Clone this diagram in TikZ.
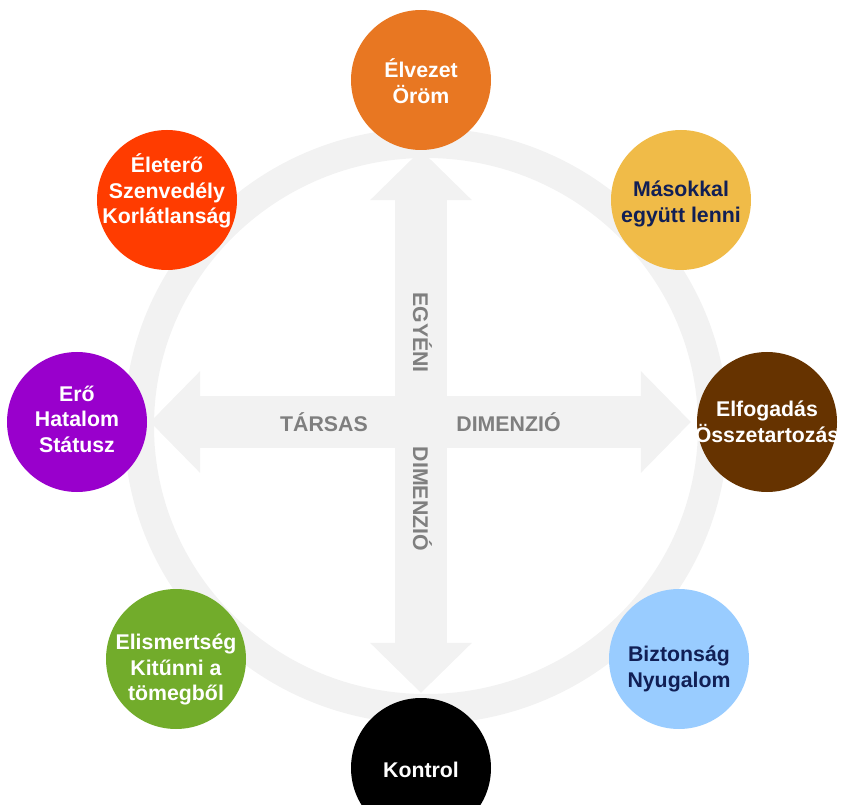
\documentclass[tikz,border=0pt]{standalone}
\usepackage{fontspec}
\setmainfont{Liberation Sans}
\usetikzlibrary{arrows.meta,backgrounds}

\definecolor{cElvezet}{RGB}{232,119,34}
\definecolor{cEletero}{RGB}{255,60,0}
\definecolor{cMasokkal}{RGB}{240,187,72}
\definecolor{cElfogadas}{RGB}{102,51,0}
\definecolor{cEro}{RGB}{153,0,204}
\definecolor{cElismert}{RGB}{114,172,43}
\definecolor{cBiztonsag}{RGB}{153,204,255}
\definecolor{navytext}{RGB}{17,31,85}
\definecolor{ringgray}{RGB}{242,242,242}
\definecolor{axisgray}{RGB}{127,127,127}

\begin{document}
\begin{tikzpicture}[x=1pt,y=-1pt]

\tikzstyle{bubble}=[circle,minimum size=140pt,inner sep=0pt]
\tikzstyle{bubbletext}=[align=center,font=\fontsize{21.3}{25.5}\selectfont\bfseries,text=white]
\tikzstyle{axislabel}=[font=\fontsize{21.3}{25.5}\selectfont\bfseries,text=axisgray,anchor=base]
\tikzstyle{bigarrow}=[color=ringgray,line width=52pt,{Triangle[width=102pt,length=50pt,line width=0pt,fill=ringgray]}-{Triangle[width=102pt,length=50pt,line width=0pt,fill=ringgray]}]

\useasboundingbox (0,0) rectangle (847,805);

\node[bubble,fill=cElvezet] 	(elvezet) 	at (421,80) 	{};
\node[bubble,fill=cEletero] 	(eletero) 	at (167,200) 	{};
\node[bubble,fill=cMasokkal] 	(masokkal) 	at (681,200) 	{};
\node[bubble,fill=cEro] 		(ero) 		at (77,422) 	{};
\node[bubble,fill=cElfogadas] 	(elfogadas) at (767,422) 	{};
\node[bubble,fill=cElismert] 	(elismert) 	at (176,659) 	{};
\node[bubble,fill=cBiztonsag] 	(biztonsag) at (679,659) 	{};
\node[bubble,fill=black] 		(kontrol) 	at (421,768) 	{};

\node[bubbletext] 				(elvezet-t) 	at ([yshift=-1pt]elvezet) 		{Élvezet\\Öröm};
\node[bubbletext] 				(eletero-t) 	at ([yshift=9pt]eletero) 		{Életerő\\Szenvedély\\Korlátlanság};
\node[bubbletext,text=navytext] (masokkal-t) 	at ([yshift=-4pt]masokkal) 		{Másokkal\\együtt lenni};
\node[bubbletext] 				(ero-t) 		at ([yshift=3pt]ero) 			{Erő\\Hatalom\\Státusz};
\node[bubbletext] 				(elfogadas-t) 	at (elfogadas) 					{Elfogadás\\Összetartozás};
\node[bubbletext] 				(elismert-t) 	at ([yshift=-10.5pt]elismert) 	{Elismertség\\Kitűnni a\\tömegből};
\node[bubbletext,text=navytext] (biztonsag-t) 	at ([yshift=-9.7pt]biztonsag) 	{Biztonság\\Nyugalom};
\node[bubbletext] 				(kontrol-t) 	at ([yshift=-1.4pt]kontrol) 	{Kontrol};

\begin{scope}[on background layer]
\draw[ringgray,line width=30pt] (426,426) ellipse [x radius=287pt,y radius=283pt];
\draw[bigarrow,shorten >=5pt] (elvezet) -- (kontrol);
\draw[bigarrow,shorten <=3pt,shorten >=6pt] (ero) -- (elfogadas);
\end{scope}

\node[axislabel] 			(tarsas) 	at (324,431.5) 	{TÁRSAS};
\node[axislabel] 			(dimh) 		at (508.5,431.5) {DIMENZIÓ};
\node[axislabel,rotate=-90] (egyeni) 	at (413,332.5) 	{EGYÉNI};
\node[axislabel,rotate=-90] (dimv) 		at (413,499) 	{DIMENZIÓ};

\end{tikzpicture}
\end{document}
